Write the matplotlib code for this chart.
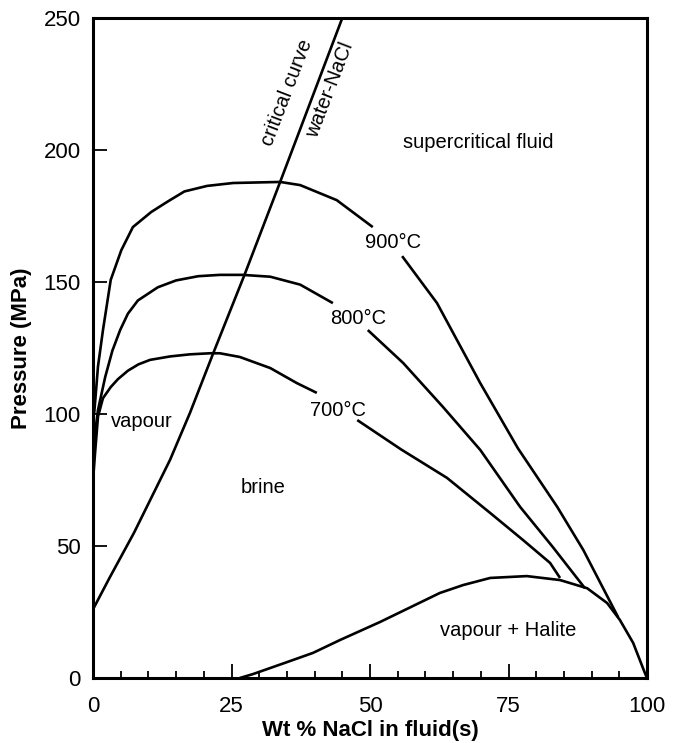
import matplotlib
matplotlib.use("Agg")
import matplotlib.pyplot as plt
from matplotlib.ticker import MultipleLocator

plt.rcParams['font.family'] = ['Liberation Sans', 'DejaVu Sans']

# Critical curve water-NaCl
crit_x = [0, 3, 7.4, 13.9, 17.5, 21.7, 27.4, 33.8, 45.0]
crit_y = [26, 38, 55, 82.6, 100.4, 123, 153, 188, 250]

# 900 °C isotherm (two segments split by label)
t900a_x = [0.2, 0.4, 0.9, 1.8, 3.2, 5.1, 7.2, 10.5, 13.5, 16.5, 20.6, 25.3, 33.8, 37.4, 44.0, 50.5]
t900a_y = [100, 105, 118, 131.8, 150.8, 162, 170.8, 176.5, 180.5, 184.3, 186.4, 187.5, 187.9, 186.7, 181, 170.8]
t900b_x = [55.8, 62.1, 69.9, 76.7, 83.8, 88.5, 94.8]
t900b_y = [159.8, 142, 111.7, 87, 64.8, 48.5, 23]

# 800 °C isotherm
t800a_x = [0.2, 0.9, 2.2, 3.5, 4.9, 6.3, 8.1, 11.7, 15.0, 19.0, 22.9, 27.0, 32.0, 37.4, 43.3]
t800a_y = [90, 101.5, 114, 124, 131.8, 138, 143, 148, 150.6, 152.2, 152.7, 152.7, 152, 149, 142]
t800b_x = [49.6, 56.0, 63.2, 69.9, 77.1, 83.0, 88.8]
t800b_y = [131.8, 119.3, 102.6, 86.4, 64.8, 49.6, 34]

# 700 °C isotherm
t700a_x = [0.1, 0.4, 0.9, 1.8, 3.2, 4.5, 6.3, 8.2, 10.3, 13.9, 17.5, 21.1, 22.9, 26.5, 32.0, 36.8, 40.4]
t700a_y = [77.6, 86, 99, 106, 110.2, 113.2, 116.4, 118.8, 120.5, 121.8, 122.6, 123, 123, 121.6, 117.4, 111.7, 108]
t700b_x = [47.7, 55.6, 63.9, 71.7, 77.6, 82.5, 84.3]
t700b_y = [97.7, 86.6, 75.8, 62.5, 52.3, 43.6, 37.9]

# Vapour + halite boundary
hal_x = [26.5, 28.9, 35.0, 39.7, 44.6, 51.8, 62.6, 66.8, 71.7, 78.3, 84.3, 89.2, 92.8, 95.1, 97.5, 99.6, 100]
hal_y = [0, 1.5, 6, 9.5, 14.4, 21.2, 32.2, 35.2, 37.9, 38.6, 37.1, 34, 28.4, 22, 13.3, 2, 0]

fig = plt.figure(figsize=(6.8, 7.43), dpi=100)
ax = fig.add_axes([93/680, 1-678/743, (647-93)/680, (678-18)/743])

lw = 1.9
for xs, ys in [(crit_x, crit_y), (t900a_x, t900a_y), (t900b_x, t900b_y),
               (t800a_x, t800a_y), (t800b_x, t800b_y),
               (t700a_x, t700a_y), (t700b_x, t700b_y), (hal_x, hal_y)]:
    ax.plot(xs, ys, color='black', lw=lw, solid_capstyle='butt', solid_joinstyle='round')

ax.set_xlim(0, 100)
ax.set_ylim(0, 250)
ax.xaxis.set_major_locator(MultipleLocator(25))
ax.xaxis.set_minor_locator(MultipleLocator(5))
ax.yaxis.set_major_locator(MultipleLocator(50))
ax.tick_params(axis='x', which='major', direction='in', length=10, width=1.3, pad=13, labelsize=16)
ax.tick_params(axis='x', which='minor', direction='in', length=5, width=1.3)
ax.tick_params(axis='y', which='major', direction='in', length=10, width=1.3, pad=9, labelsize=16)
for s in ax.spines.values():
    s.set_linewidth(2.2)

ax.set_xlabel('Wt % NaCl in fluid(s)', fontsize=16, fontweight='bold', labelpad=2)
ax.set_ylabel('Pressure (MPa)', fontsize=16, fontweight='bold', labelpad=8)

fs = 14.5
ax.text(69.5, 202.7, 'supercritical fluid', fontsize=fs, ha='center', va='center')
ax.text(54.2, 165, '900°C', fontsize=fs, ha='center', va='center')
ax.text(47.8, 136, '800°C', fontsize=fs, ha='center', va='center')
ax.text(44.2, 101.5, '700°C', fontsize=fs, ha='center', va='center')
ax.text(8.8, 97, 'vapour', fontsize=fs, ha='center', va='center')
ax.text(30.7, 72, 'brine', fontsize=fs, ha='center', va='center')
ax.text(75, 18, 'vapour + Halite', fontsize=fs, ha='center', va='center')
ax.text(35.0, 221.6, 'critical curve', fontsize=fs, ha='center', va='center', rotation=69, rotation_mode='anchor')
ax.text(42.8, 222.7, 'water-NaCl', fontsize=fs, ha='center', va='center', rotation=69, rotation_mode='anchor')

fig.savefig('out.png', dpi=100)
